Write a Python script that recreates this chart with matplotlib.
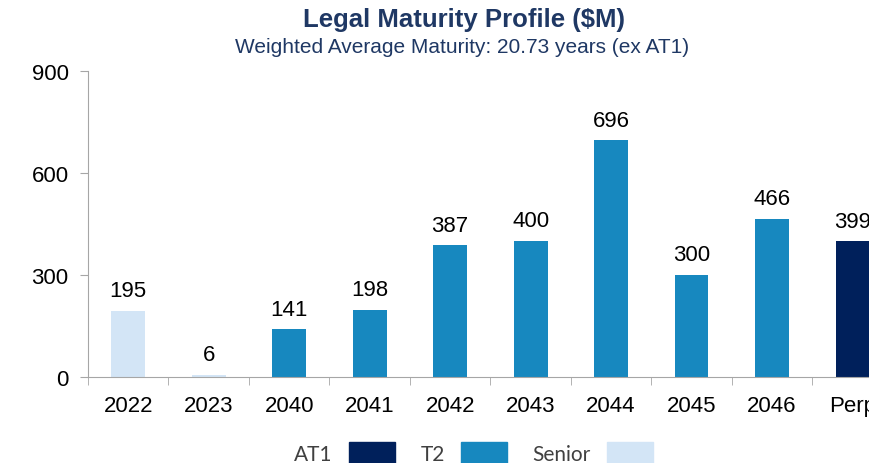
import matplotlib.pyplot as plt
from matplotlib.patches import Patch

categories = ["2022", "2023", "2040", "2041", "2042", "2043", "2044", "2045", "2046", "Perp"]
values = [195, 6, 141, 198, 387, 400, 696, 300, 466, 399]
tiers = ["Senior", "Senior", "T2", "T2", "T2", "T2", "T2", "T2", "T2", "AT1"]
yticks = [0, 300, 600, 900]

colors = {"AT1": "#00205B", "T2": "#1788BF", "Senior": "#D3E5F6"}
title_col = "#1F3864"

plt.rcParams['font.family'] = ['Liberation Sans', 'DejaVu Sans']

fig = plt.figure(figsize=(8.69, 4.64), dpi=100)
ax = fig.add_axes([0.1013, 0.1853, 0.926, 0.6595])

x = list(range(len(categories)))
ax.bar(x, values, width=0.42, color=[colors[t] for t in tiers])
for xi, v in zip(x, values):
    ax.text(xi, v + 28, str(v), ha='center', va='bottom', fontsize=16, color='black')

ax.set_xlim(-0.5, len(categories) - 0.5)
ax.set_ylim(0, 900)
ax.set_yticks(yticks)
ax.set_xticks(x)
ax.set_xticklabels(categories, fontsize=16)
ax.set_xticks([i - 0.5 for i in range(len(categories) + 1)], minor=True)
ax.tick_params(axis='x', which='major', length=0, pad=13)
ax.tick_params(axis='x', which='minor', length=6, color='#A6A6A6')
ax.tick_params(axis='y', labelsize=16, length=6, color='#A6A6A6', pad=8)
for s in ['top', 'right']:
    ax.spines[s].set_visible(False)
for s in ['left', 'bottom']:
    ax.spines[s].set_color('#A6A6A6')

fig.text(0.534, 0.957, "Legal Maturity Profile ($M)", ha='center', va='center',
         fontsize=18.5, fontweight='bold', color=title_col)
fig.text(0.532, 0.897, "Weighted Average Maturity: 20.73 years (ex AT1)", ha='center',
         va='center', fontsize=15, color=title_col)

handles = [Patch(color=colors[k]) for k in ["AT1", "T2", "Senior"]]
leg = fig.legend(handles, ["AT1", "T2", "Senior"], loc='lower center', ncol=3,
                 bbox_to_anchor=(0.545, -0.045), frameon=False, markerfirst=False,
                 prop={'family': 'Lato', 'size': 15}, handlelength=2.2,
                 handleheight=1.35, columnspacing=1.2, handletextpad=0.8)
for t in leg.get_texts():
    t.set_color('#404040')

fig.savefig("out.png", dpi=100)
